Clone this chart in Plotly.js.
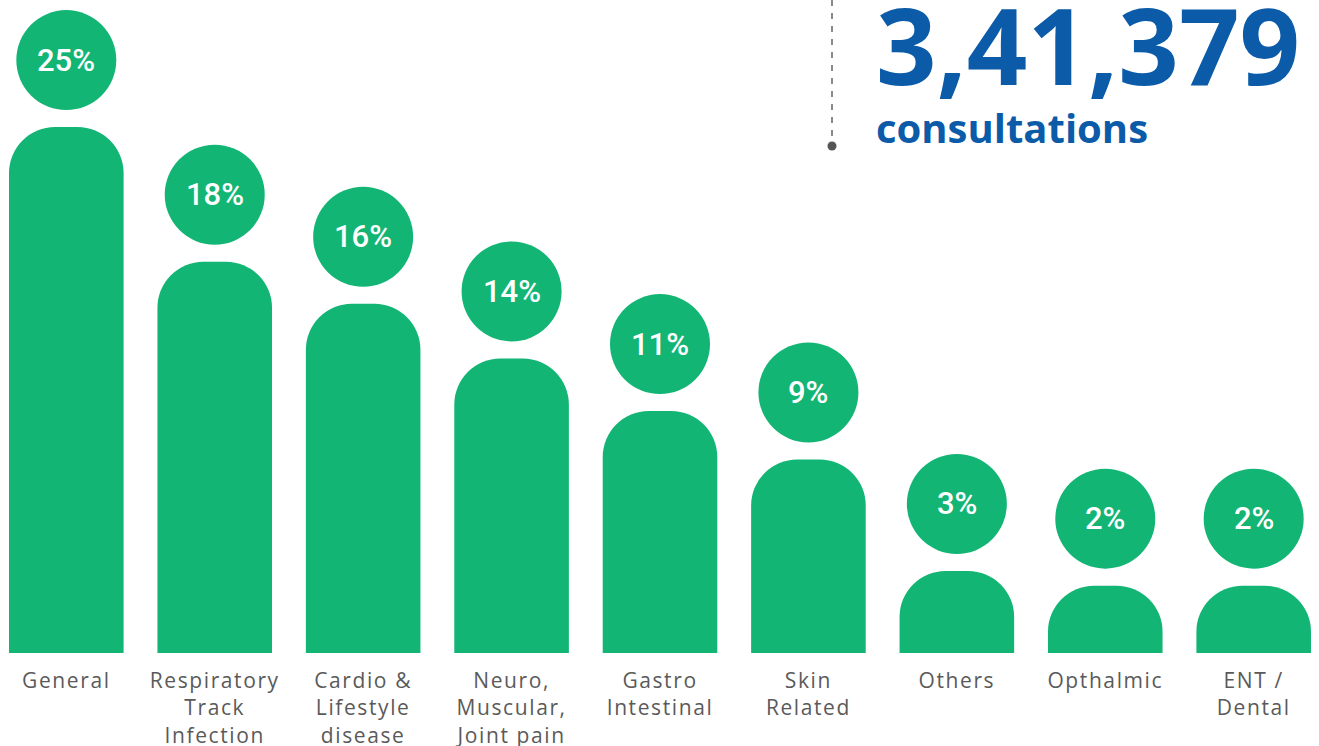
<!DOCTYPE html>
<html><head><meta charset="utf-8">
<script src="https://cdn.plot.ly/plotly-3.0.1.min.js"></script>
<style>html,body{margin:0;padding:0;background:#fff;overflow:hidden}#chart{width:1319px;height:746px;}
.xtick text{letter-spacing:1.6px;}</style>
</head><body><div id="chart"></div>
<script>
// ---- data ----
const categories = ['General', 'Respiratory<br>Track<br>Infection', 'Cardio &amp;<br>Lifestyle<br>disease',
  'Neuro,<br>Muscular,<br>Joint pain', 'Gastro<br>Intestinal', 'Skin<br>Related', 'Others', 'Opthalmic', 'ENT /<br>Dental'];
const shares = [25, 18, 16, 14, 11, 9, 3, 2, 2];               // label values (%)
const barLevels = [25.0, 18.6, 16.6, 14.0, 11.5, 9.2, 3.9, 3.2, 3.2]; // drawn bar heights
const totalConsultations = '3,41,379';
const totalCaption = 'consultations';

// ---- styling ----
const GREEN = '#12b574';
const BLUE = '#0b5ba8';
const W = 1319, H = 746;
const M = {l: 1, r: 0, t: 0, b: 93};
const PW = W - M.l - M.r, PH = H - M.t - M.b;
const px2x = p => (p - M.l) / PW;
const py2y = p => (PH - (p - M.t)) / PH;

const idx = categories.map((_, i) => i);

const trace = {
  type: 'bar', x: idx, y: barLevels,
  marker: {color: GREEN, cornerradius: 46, line: {width: 0}},
  width: 0.772, hoverinfo: 'skip'
};

const shapes = [];
const annotations = [];
idx.forEach(i => {
  shapes.push({type: 'circle', xref: 'x', yref: 'y', xsizemode: 'pixel', ysizemode: 'pixel',
    xanchor: i, yanchor: barLevels[i], x0: -50, x1: 50, y0: 17, y1: 117,
    fillcolor: GREEN, line: {width: 0}, layer: 'above'});
  annotations.push({x: i, y: barLevels[i], xref: 'x', yref: 'y', yshift: 67, yanchor: 'middle',
    text: shares[i] + '%', showarrow: false,
    font: {family: 'Roboto', size: 31, color: '#ffffff', weight: 500}});
});

// dashed connector and dot
shapes.push({type: 'line', xref: 'paper', yref: 'paper', x0: px2x(832), x1: px2x(832), y0: py2y(0), y1: py2y(141),
  line: {color: '#8a8a8a', width: 2, dash: '6px,7px'}});
shapes.push({type: 'circle', xref: 'paper', yref: 'paper', x0: px2x(827.5), x1: px2x(836.5), y0: py2y(141.5), y1: py2y(150.5),
  fillcolor: '#555555', line: {width: 0}});

annotations.push({xref: 'paper', yref: 'paper', x: px2x(874), y: py2y(44), xanchor: 'left', yanchor: 'middle',
  text: totalConsultations, showarrow: false,
  font: {family: 'Open Sans', size: 106, color: BLUE, weight: 700}});
annotations.push({xref: 'paper', yref: 'paper', x: px2x(874), y: py2y(128), xanchor: 'left', yanchor: 'middle',
  text: totalCaption, showarrow: false,
  font: {family: 'Open Sans', size: 40, color: BLUE, weight: 700}});

const layout = {
  width: W, height: H, margin: M,
  paper_bgcolor: '#ffffff', plot_bgcolor: '#ffffff',
  showlegend: false,
  xaxis: {range: [-0.44, 8.44], tickvals: idx, ticktext: categories, showgrid: false, zeroline: false,
    showline: false, ticks: '', ticklabelstandoff: 13,
    tickfont: {family: 'Open Sans', size: 21, color: '#5a5a5a'}, fixedrange: true},
  yaxis: {range: [0, 31.04], visible: false, fixedrange: true},
  shapes: shapes, annotations: annotations
};

Plotly.newPlot('chart', [trace], layout, {displayModeBar: false, staticPlot: true});
</script>
</body></html>
